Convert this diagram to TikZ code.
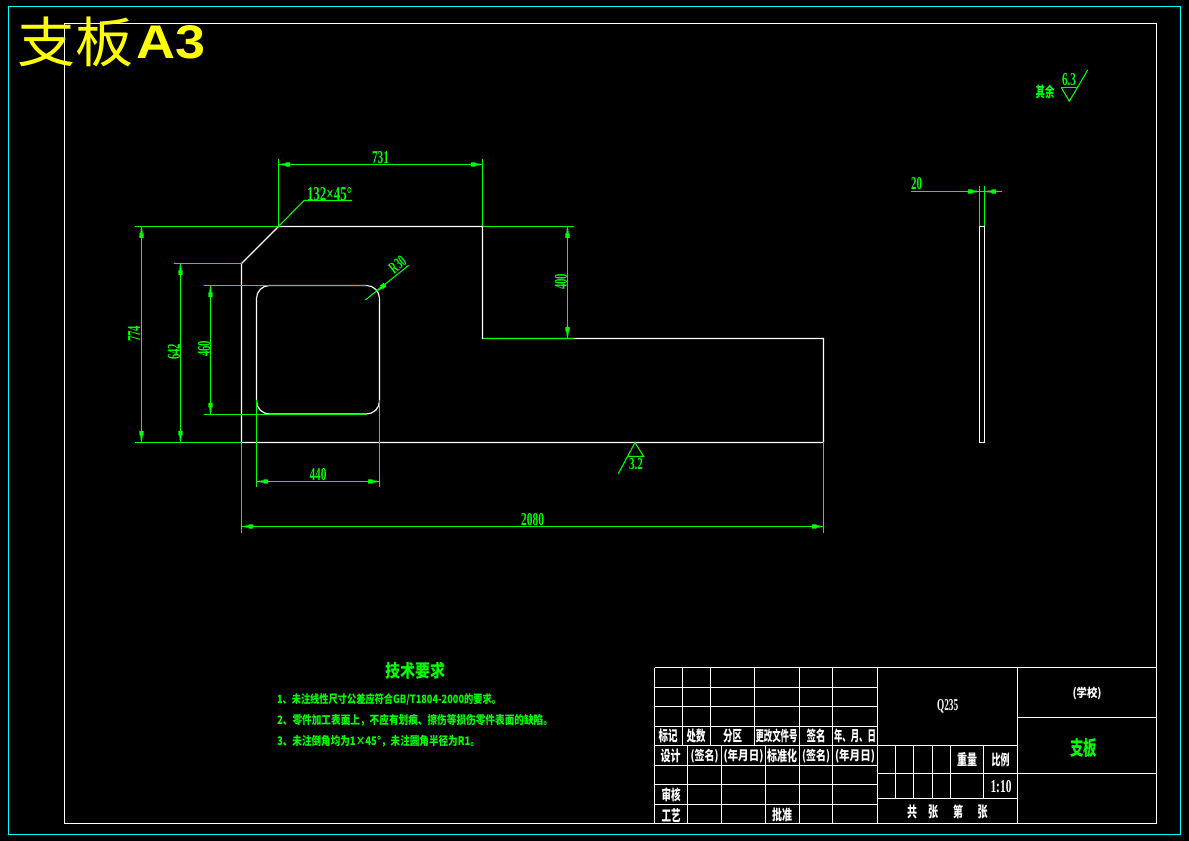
\documentclass[tikz,border=0pt]{standalone}
\usepackage{fontspec}
\usepackage{graphicx}
\setmainfont{Liberation Serif}
\newfontfamily\cjk{Noto Sans CJK SC}
\newfontfamily\dimfont{Liberation Serif}
\newfontfamily\bigfont{Liberation Sans}
\newlength{\pxu}\setlength{\pxu}{0.75pt}
% boxes fitted to a measured width and height, in reference pixels
\newcommand{\cb}[3]{\resizebox*{#1\pxu}{#2\pxu}{\cjk\bfseries #3}}
\newcommand{\db}[3]{\resizebox{#1\pxu}{#2\pxu}{\textbf{\dimfont #3}}}
% the narrow filled dimension arrowhead: tip position and direction toward the line
\newcommand{\tick}[3]{\fill[dimc,shift={(#1,#2)},rotate=#3] (2.5,-0.8) -- (7,-1.2) -- (7,-2.2) -- (11.5,-2.2) -- (11.5,2.2) -- (7,2.2) -- (7,1.2) -- (2.5,0.8) -- cycle;}
\definecolor{dimc}{RGB}{0,255,0}
\definecolor{framec}{RGB}{0,255,255}
\definecolor{titlec}{RGB}{255,255,0}
\tikzset{
  part/.style={draw=white,line width=0.85pt},
  frameline/.style={draw=white,line width=0.8pt},
  dimline/.style={draw=dimc,line width=0.8pt},
  lbl/.style={inner sep=0pt,outer sep=0pt,text=dimc},
  wlbl/.style={inner sep=0pt,outer sep=0pt,text=white},
}
\begin{document}
\begin{tikzpicture}[x=0.75pt,y=-0.75pt]
\useasboundingbox (0,0) rectangle (1189,841);
\fill[black] (0,0) rectangle (1189,841);
% frames
\draw[framec,line width=0.8pt] (8.5,6.5) rectangle (1180.5,834.5);
\draw[frameline] (64.5,23.5) rectangle (1156.5,823.5);
% title
\node[inner sep=0pt,text=titlec] (ttlcn) at (75.5,42) {\resizebox*{116\pxu}{50\pxu}{\cjk 支板}};
\node[inner sep=0pt,text=titlec] (ttlen) at (171,42.5) {\resizebox{69\pxu}{33\pxu}{\bigfont\textbf{A3}}};
% part outline, front view
\draw[part] (278.5,226.5) -- (241.5,263.5) -- (241.5,442.5) -- (823.5,442.5) -- (823.5,338.5) -- (482.5,338.5) -- (482.5,226.5) -- cycle;
% opening
\draw[part] (269.5,285.5) -- (366.5,285.5) arc[start angle=-90,end angle=0,radius=13] -- (379.5,401) arc[start angle=0,end angle=90,radius=13] -- (269.5,414) arc[start angle=90,end angle=180,radius=13] -- (256.5,298.5) arc[start angle=180,end angle=270,radius=13] -- cycle;
% side view
\draw[part] (979.5,226.5) rectangle (984.5,442.5);
% dimension 731
\draw[dimline] (278.5,159) -- (278.5,226.5);
\draw[dimline] (482.5,159) -- (482.5,226.5);
\draw[dimline] (278.5,164.5) -- (482.5,164.5);
\tick{278.5}{164.5}{0}\tick{482.5}{164.5}{180}
\node[lbl] (d731) at (380.5,158) {\db{17}{12}{731}};
% chamfer leader
\draw[dimline] (278.5,226.5) -- (304,200.5) -- (352,200.5);
\node[lbl] (d132) at (329.5,194) {\db{45}{13}{132×45°}};
% extension lines left
\draw[dimline] (135,226.5) -- (278.5,226.5);
\draw[dimline] (135,442.5) -- (241.5,442.5);
\draw[dimline] (174,263.5) -- (241.5,263.5);
\draw[dimline] (204,285.5) -- (365.5,285.5);
\draw[dimline] (204,414.5) -- (365.5,414.5);
% 774
\draw[dimline] (141.5,226.5) -- (141.5,442.5);
\tick{141.5}{226.5}{-90}\tick{141.5}{442.5}{90}
\node[lbl,rotate=90] (d774) at (134,334) {\db{16}{12}{774}};
% 642
\draw[dimline] (180.5,263.5) -- (180.5,442.5);
\tick{180.5}{263.5}{-90}\tick{180.5}{442.5}{90}
\node[lbl,rotate=90] (d642) at (174,352) {\db{16}{12}{642}};
% 460
\draw[dimline] (210.5,285.5) -- (210.5,414.5);
\tick{210.5}{285.5}{-90}\tick{210.5}{414.5}{90}
\node[lbl,rotate=90] (d460) at (204,349) {\db{16}{12}{460}};
% 400
\draw[dimline] (482.5,226.5) -- (574,226.5);
\draw[dimline] (482.5,338.5) -- (574,338.5);
\draw[dimline] (567.5,226.5) -- (567.5,338.5);
\tick{567.5}{226.5}{-90}\tick{567.5}{338.5}{90}
\node[lbl,rotate=90] (d400) at (561,282) {\db{16}{12}{400}};
% 440
\draw[dimline] (256.5,400) -- (256.5,486.5);
\draw[dimline] (379.5,400) -- (379.5,486.5);
\draw[dimline] (256.5,481.5) -- (379.5,481.5);
\tick{256.5}{481.5}{0}\tick{379.5}{481.5}{180}
\node[lbl] (d440) at (318,474.5) {\db{17}{12}{440}};
% 2080
\draw[dimline] (241.5,442.5) -- (241.5,532.5);
\draw[dimline] (823.5,442.5) -- (823.5,532.5);
\draw[dimline] (241.5,526.5) -- (823.5,526.5);
\tick{241.5}{526.5}{0}\tick{823.5}{526.5}{180}
\node[lbl] (d2080) at (532.5,519.5) {\db{23}{12}{2080}};
% R30
\draw[dimline] (365.3,300) -- (408.7,265.3);
\tick{376}{291.7}{38.6}
\node[lbl,rotate=38.6] (dr30) at (397.5,264.5) {\db{17}{11}{R30}};
% 20
\draw[dimline] (979.5,186) -- (979.5,226.5);
\draw[dimline] (984.5,186) -- (984.5,226.5);
\draw[dimline] (911,191.5) -- (1002,191.5);
\tick{979.5}{191.5}{180}\tick{984.5}{191.5}{0}
\node[lbl] (d20) at (916.5,184) {\db{11}{12}{20}};
% roughness 6.3
\draw[dimline] (1061.3,87.5) -- (1078,87.5);
\draw[dimline] (1061.3,87.5) -- (1069.3,101.3) -- (1087.7,70);
\node[lbl] (d63) at (1069,79.5) {\db{14}{12}{6.3}};
\node[lbl] (qy) at (1045,92) {\cb{19}{14}{其余}};
% roughness 3.2
\draw[dimline] (618.3,473.7) -- (635,442.5) -- (643.7,456.5) -- (628,456.5);
\node[lbl] (d32) at (636,464.5) {\db{14}{11}{3.2}};
% technical notes
\node[lbl] (tt) at (415,671) {\cb{60}{17}{技术要求}};
\node[lbl,anchor=west] (n1) at (277,700) {\cb{224}{12}{1、未注线性尺寸公差应符合GB/T1804-2000的要求。}};
\node[lbl,anchor=west] (n2) at (277,720.5) {\cb{276}{12}{2、零件加工表面上，不应有划痕、擦伤等损伤零件表面的缺陷。}};
\node[lbl,anchor=west] (n3) at (277,741) {\cb{203}{12}{3、未注倒角均为1×45°，未注圆角半径为R1。}};
% title block: outer and main lines
\draw[frameline] (654.5,667.5) -- (1156.5,667.5);
\draw[frameline] (654.5,667.5) -- (654.5,823.5);
\foreach \yy in {687.5,706.5,726.5,745.5,765.5,784.5,804.5}{\draw[frameline] (654.5,\yy) -- (877.5,\yy);}
\foreach \xx in {682.5,710.5,754.5,799.5,832.5}{\draw[frameline] (\xx,667.5) -- (\xx,745.5);}
\foreach \xx in {687.5,721.5,765.5,799.5,832.5}{\draw[frameline] (\xx,745.5) -- (\xx,823.5);}
\draw[frameline] (877.5,667.5) -- (877.5,823.5);
\draw[frameline] (1017.5,667.5) -- (1017.5,823.5);
\draw[frameline] (877.5,745.5) -- (1017.5,745.5);
\draw[frameline] (877.5,773.5) -- (1017.5,773.5);
\draw[frameline] (877.5,798.5) -- (1017.5,798.5);
\foreach \xx in {895.5,913.5,932.5,950.5,983.5}{\draw[frameline] (\xx,745.5) -- (\xx,798.5);}
\draw[frameline] (1017.5,717.5) -- (1156.5,717.5);
\draw[frameline] (1017.5,773.5) -- (1156.5,773.5);
% title block: texts
\node[wlbl] (b1) at (668,736) {\cb{19}{14}{标记}};
\node[wlbl] (b2) at (696,736) {\cb{19}{14}{处数}};
\node[wlbl] (b3) at (732.5,736) {\cb{19}{14}{分区}};
\node[wlbl] (b4) at (776.5,736) {\cb{42}{14}{更改文件号}};
\node[wlbl] (b5) at (816,736) {\cb{19}{14}{签名}};
\node[wlbl] (b6) at (855,736) {\cb{42}{14}{年、月、日}};
\node[wlbl] (c1) at (670.5,756) {\cb{20}{14}{设计}};
\node[wlbl] (c2) at (704.5,756) {\cb{28}{14}{(签名)}};
\node[wlbl] (c3) at (743.5,756) {\cb{40}{14}{(年月日)}};
\node[wlbl] (c4) at (782,756) {\cb{30}{14}{标准化}};
\node[wlbl] (c5) at (816,756) {\cb{28}{14}{(签名)}};
\node[wlbl] (c6) at (855,756) {\cb{40}{14}{(年月日)}};
\node[wlbl] (e1) at (671,795) {\cb{19}{14}{审核}};
\node[wlbl] (f1) at (671,815) {\cb{19}{14}{工艺}};
\node[wlbl] (f2) at (782,815) {\cb{20}{14}{批准}};
\node[wlbl] (q) at (947.6,706) {\db{21}{11}{Q235}};
\node[wlbl] (sch) at (1087,693) {\cb{29}{13}{(学校)}};
\node[lbl] (zb) at (1083.5,748) {\cb{27}{19}{支板}};
\node[wlbl] (zl) at (967,760) {\cb{20}{14}{重量}};
\node[wlbl] (bl) at (1000.5,760) {\cb{18}{14}{比例}};
\node[wlbl] (sc) at (1001,787) {\db{21}{12}{1:10}};
\node[wlbl] (g1) at (912,812) {\cb{10}{14}{共}};
\node[wlbl] (g2) at (933,812) {\cb{10}{14}{张}};
\node[wlbl] (g3) at (958,812) {\cb{10}{14}{第}};
\node[wlbl] (g4) at (982.5,812) {\cb{10}{14}{张}};
\end{tikzpicture}
\end{document}
